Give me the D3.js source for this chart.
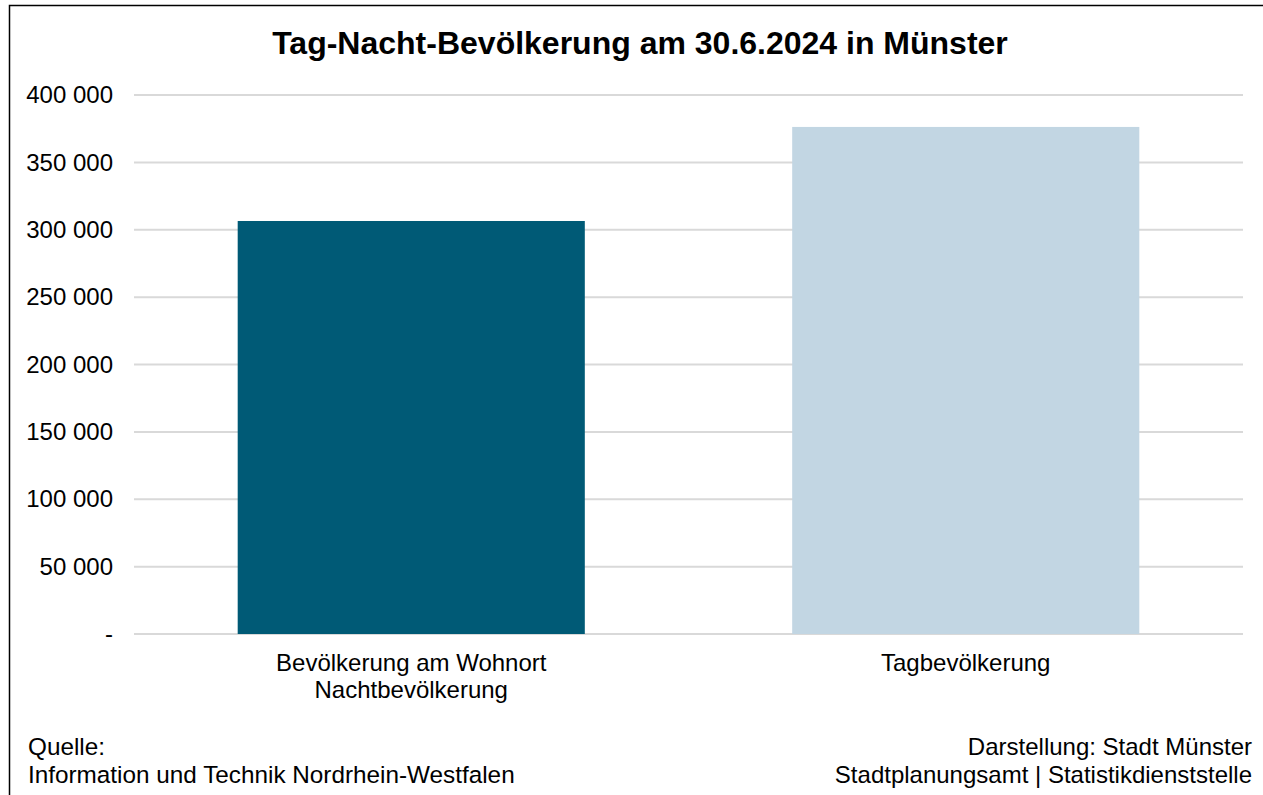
<!DOCTYPE html>
<html><head><meta charset="utf-8">
<script src="https://cdn.jsdelivr.net/npm/d3@7"></script>
<style>body{margin:0;background:#fff}svg{display:block}text{font-family:"Liberation Sans",Arial,sans-serif;fill:#000}</style>
</head><body>
<svg id="c" width="1263" height="795"></svg>
<script>
const title = "Tag-Nacht-Bevölkerung am 30.6.2024 in Münster";
const categories = [["Bevölkerung am Wohnort","Nachtbevölkerung"],["Tagbevölkerung"]];
const values = [306500, 376300];
const colors = ["#005a76", "#c2d6e3"];
const ticks = [0,50000,100000,150000,200000,250000,300000,350000,400000];
const tickLabels = ["-","50 000","100 000","150 000","200 000","250 000","300 000","350 000","400 000"];
const sourceLines = ["Quelle:","Information und Technik Nordrhein-Westfalen"];
const creditLines = ["Darstellung: Stadt Münster","Stadtplanungsamt | Statistikdienststelle"];

const svg = d3.select("#c");
svg.append("rect").attr("x",9.5).attr("y",5.5).attr("width",1300).attr("height",900)
  .attr("fill","#fff").attr("stroke","#000").attr("stroke-width",1.5);

const pLeft=134, pRight=1243, pTop=95, pBottom=634;
const y = d3.scaleLinear().domain([0,400000]).range([pBottom,pTop]);
const x = d3.scaleBand().domain(d3.range(values.length)).range([pLeft,pRight]).paddingInner(0.374).paddingOuter(0.187);

// gridlines
svg.append("g").selectAll("line").data(ticks).join("line")
  .attr("x1",pLeft).attr("x2",pRight).attr("y1",d=>y(d)).attr("y2",d=>y(d))
  .attr("stroke","#d9d9d9").attr("stroke-width",2);

// y axis labels
const yAxis = d3.axisLeft(y).tickValues(ticks).tickSize(0).tickPadding(0).tickFormat((d,i)=>tickLabels[i]);
const ga = svg.append("g").attr("transform","translate(113,0)").call(yAxis);
ga.select(".domain").remove();
ga.selectAll("text").attr("font-size",24).attr("font-family","Liberation Sans, Arial, sans-serif").attr("fill","#000");

// bars
svg.append("g").selectAll("rect").data(values).join("rect")
  .attr("x",(d,i)=>x(i)).attr("width",x.bandwidth())
  .attr("y",d=>y(d)).attr("height",d=>y(0)-y(d))
  .attr("fill",(d,i)=>colors[i]);

// category labels
const cl = svg.append("g").selectAll("text").data(categories).join("text")
  .attr("x",(d,i)=>x(i)+x.bandwidth()/2).attr("y",671).attr("text-anchor","middle").attr("font-size",24);
cl.selectAll("tspan").data(d=>d).join("tspan")
  .attr("x",function(){return this.parentNode.getAttribute("x");})
  .attr("dy",(d,i)=>i?27:0).text(d=>d);

// title
svg.append("text").attr("x",640).attr("y",54).attr("text-anchor","middle")
  .attr("font-size",32).attr("font-weight","bold").text(title);

// footer
svg.append("g").selectAll("text").data(sourceLines).join("text")
  .attr("x",28).attr("y",(d,i)=>755+i*28).attr("font-size",24.3).text(d=>d);
svg.append("g").selectAll("text").data(creditLines).join("text")
  .attr("x",1252).attr("y",(d,i)=>755+i*28).attr("text-anchor","end").attr("font-size",24).text(d=>d);
</script>
</body></html>
